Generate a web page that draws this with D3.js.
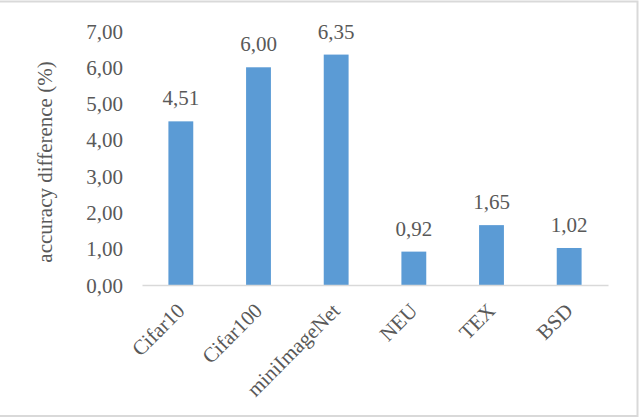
<!DOCTYPE html>
<html>
<head>
<meta charset="utf-8">
<script src="https://cdn.jsdelivr.net/npm/d3@7/dist/d3.min.js"></script>
<style>
  html, body { margin: 0; padding: 0; background: #fff; }
  svg { display: block; }
</style>
</head>
<body>
<svg id="chart" width="640" height="418"></svg>
<script>
const categories = ["Cifar10", "Cifar100", "miniImageNet", "NEU", "TEX", "BSD"];
const values = [4.51, 6.00, 6.35, 0.92, 1.65, 1.02];
const yTicks = [0, 1, 2, 3, 4, 5, 6, 7];
const yTitle = "accuracy difference (%)";

const FONT = "'Liberation Serif', 'Times New Roman', Times, serif";
const FS = "21px";
const TXT = "#595959";

const svg = d3.select("#chart");
const W = 640, H = 418;
const margin = { left: 142, right: 32, top: 31, bottom: 133 };
const plotW = W - margin.left - margin.right;
const plotH = H - margin.top - margin.bottom;

const fmt = v => v.toFixed(2).replace(".", ",");

function styleText(sel) {
  return sel.attr("font-family", FONT).style("font-family", FONT)
    .style("font-size", FS).attr("fill", TXT);
}

// chart border
svg.append("rect")
  .attr("x", -2).attr("y", 1.5)
  .attr("width", 639.5).attr("height", 414.5)
  .attr("fill", "none").attr("stroke", "#d9d9d9").attr("stroke-width", 2);

const g = svg.append("g").attr("transform", `translate(${margin.left},${margin.top})`);

const x = d3.scaleBand().domain(categories).range([0, plotW]).paddingInner(0.68).paddingOuter(0.34);
const y = d3.scaleLinear().domain([0, 7]).range([plotH, 0]);

// y axis labels
const yAxis = d3.axisLeft(y).tickValues(yTicks).tickFormat(fmt).tickSize(0).tickPadding(19);
const ya = g.append("g").call(yAxis);
ya.attr("font-family", FONT);
ya.select(".domain").remove();
styleText(ya.selectAll("text")).attr("dy", "0.34em");

// bars
g.selectAll("rect.bar").data(values).enter().append("rect")
  .attr("class", "bar")
  .attr("x", (d, i) => x(categories[i]))
  .attr("y", d => y(d))
  .attr("width", x.bandwidth())
  .attr("height", d => plotH - y(d))
  .attr("fill", "#5b9bd5");

// data labels
styleText(g.selectAll("text.lbl").data(values).enter().append("text")
  .attr("class", "lbl")
  .attr("x", (d, i) => x(categories[i]) + x.bandwidth() / 2)
  .attr("y", d => y(d) - 16)
  .attr("text-anchor", "middle")
  .text(d => fmt(d)));

// x axis
const xAxis = d3.axisBottom(x).tickSize(0).tickFormat("");
const xa = g.append("g").attr("transform", `translate(0,${plotH})`).call(xAxis);
xa.select(".domain").attr("stroke", "#d9d9d9").attr("stroke-width", 1.5);

styleText(g.selectAll("text.xl").data(categories).enter().append("text")
  .attr("class", "xl")
  .attr("transform", d => `translate(${x(d) + x.bandwidth() / 2 + 5},${plotH + 27}) rotate(-45)`)
  .attr("text-anchor", "end")
  .text(d => d));

// y title
styleText(svg.append("text")
  .attr("transform", `translate(52,${margin.top + plotH / 2 + 4}) rotate(-90)`)
  .attr("text-anchor", "middle")
  .text(yTitle));
</script>
</body>
</html>
